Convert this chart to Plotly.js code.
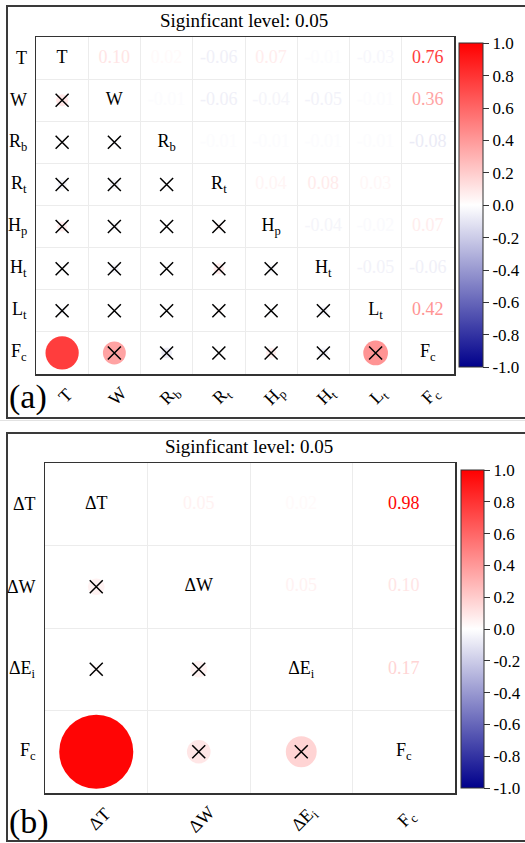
<!DOCTYPE html>
<html>
<head>
<meta charset="utf-8">
<script src="https://cdn.plot.ly/plotly-3.0.1.min.js"></script>
<style>html,body{margin:0;padding:0;background:#fff;}#chart{width:525px;height:843px;}</style>
</head>
<body>
<div id="chart"></div>
<script>
// ---------------- DATA ----------------
const varsA = ['T', 'W', 'R<sub>b</sub>', 'R<sub>t</sub>', 'H<sub>p</sub>', 'H<sub>t</sub>', 'L<sub>t</sub>', 'F<sub>c</sub>'];
const corrA_T  = [1.00, 0.10, 0.02, -0.06, 0.07, -0.01, -0.03, 0.76];
const corrA_W  = [0.10, 1.00, -0.01, -0.06, -0.04, -0.05, -0.01, 0.36];
const corrA_Rb = [0.02, -0.01, 1.00, -0.01, -0.01, -0.01, -0.01, -0.08];
const corrA_Rt = [-0.06, -0.06, -0.01, 1.00, 0.04, 0.08, 0.03, 0.00];
const corrA_Hp = [0.07, -0.04, -0.01, 0.04, 1.00, -0.04, -0.02, 0.07];
const corrA_Ht = [-0.01, -0.05, -0.01, 0.08, -0.04, 1.00, -0.05, -0.06];
const corrA_Lt = [-0.03, -0.01, -0.01, 0.03, -0.02, -0.05, 1.00, 0.42];
const corrA_Fc = [0.76, 0.36, -0.08, 0.00, 0.07, -0.06, 0.42, 1.00];
// 1 = significant at 0.05 (no cross drawn), lower triangle [row][col]
const sigA_Fc = [1, 0, 0, 0, 0, 0, 0];   // only Fc-T significant

const varsB = ['ΔT', 'ΔW', 'ΔE<sub>i</sub>', 'F<sub>c</sub>'];
const corrB_dT  = [1.00, 0.05, 0.02, 0.98];
const corrB_dW  = [0.05, 1.00, 0.05, 0.10];
const corrB_dEi = [0.02, 0.05, 1.00, 0.17];
const corrB_Fc  = [0.98, 0.10, 0.17, 1.00];
const sigB_Fc = [1, 0, 0];               // only Fc-ΔT significant

const cbTickVals = [-1.0, -0.8, -0.6, -0.4, -0.2, 0.0, 0.2, 0.4, 0.6, 0.8, 1.0];
const cbTickText = ['-1.0', '-0.8', '-0.6', '-0.4', '-0.2', '0.0', '0.2', '0.4', '0.6', '0.8', '1.0'];
const titleText = 'Siginficant level: 0.05';

// ---------------- STYLE ----------------
const FONT = '"Liberation Serif", "Times New Roman", Times, serif';
const W = 525, H = 843;
const cscale = [[0, 'rgb(0,0,139)'], [0.5, 'rgb(255,255,255)'], [1, 'rgb(255,0,0)']];
const px = v => v / W;
const py = v => 1 - v / H;

function colorFor(v) {
  const t = (v + 1) / 2;
  let a, b;
  for (let i = 0; i < cscale.length - 1; i++) {
    if (t >= cscale[i][0] && t <= cscale[i + 1][0]) { a = cscale[i]; b = cscale[i + 1]; break; }
  }
  const pa = a[1].match(/\d+/g).map(Number), pb = b[1].match(/\d+/g).map(Number);
  const f = (t - a[0]) / (b[0] - a[0]);
  const c = pa.map((x, k) => Math.round(x + (pb[k] - x) * f));
  return 'rgb(' + c.join(',') + ')';
}

const matA = [corrA_T, corrA_W, corrA_Rb, corrA_Rt, corrA_Hp, corrA_Ht, corrA_Lt, corrA_Fc];
const matB = [corrB_dT, corrB_dW, corrB_dEi, corrB_Fc];
const sigA = matA.map((r, i) => i === matA.length - 1 ? sigA_Fc : new Array(i).fill(0));
const sigB = matB.map((r, i) => i === matB.length - 1 ? sigB_Fc : new Array(i).fill(0));

// panel geometry (pixels)
const panels = [
  {mat: matA, sig: sigA, vars: varsA, xa: 'x', ya: 'y', left: 36, right: 454, top: 37, bottom: 374,
   cb: {x: 459, top: 43.5, bottom: 367, th: 24}},
  {mat: matB, sig: sigB, vars: varsB, xa: 'x2', ya: 'y2', left: 45, right: 455, top: 463, bottom: 793,
   cb: {x: 461, top: 470, bottom: 788, th: 23}}
];

const traces = [];
const annotations = [];
const layout = {
  width: W, height: H, margin: {l: 0, r: 0, t: 0, b: 0},
  paper_bgcolor: '#fff', plot_bgcolor: '#fff', showlegend: false,
  font: {family: FONT, color: '#000', size: 18},
  annotations: annotations, shapes: []
};

panels.forEach((p, pi) => {
  const n = p.vars.length;
  const cellW = (p.right - p.left) / n;
  const fullD = 0.73 * cellW;
  const up = {x: [], y: [], text: [], col: []};
  const dg = {x: [], y: [], text: []};
  const lo = {x: [], y: [], v: [], s: []};
  const cr = {x: [], y: []};
  for (let i = 0; i < n; i++) {
    for (let j = 0; j < n; j++) {
      const v = p.mat[i][j];
      if (i === j) { dg.x.push(j); dg.y.push(i); dg.text.push(p.vars[i]); }
      else if (j > i) { up.x.push(j); up.y.push(i); up.text.push(v.toFixed(2)); up.col.push(colorFor(v)); }
      else {
        lo.x.push(j); lo.y.push(i); lo.v.push(v); lo.s.push(fullD * Math.sqrt(Math.abs(v)));
        if (!p.sig[i][j]) { cr.x.push(j); cr.y.push(i); }
      }
    }
  }
  const cbc = (p.cb.top + p.cb.bottom) / 2;
  traces.push({
    type: 'scatter', mode: 'markers', x: lo.x, y: lo.y, xaxis: p.xa, yaxis: p.ya, hoverinfo: 'skip',
    marker: {
      symbol: 'circle', size: lo.s, color: lo.v, colorscale: cscale, cmin: -1, cmax: 1, opacity: 1,
      line: {width: 0}, showscale: true,
      colorbar: {
        x: px(p.cb.x), xanchor: 'left', xpad: 0, ypad: 0,
        y: py(cbc), yanchor: 'middle', len: (p.cb.bottom - p.cb.top) / H, lenmode: 'fraction',
        thickness: p.cb.th, thicknessmode: 'pixels',
        outlinewidth: 1, outlinecolor: '#333',
        tickmode: 'array', tickvals: cbTickVals, ticktext: cbTickText,
        ticks: 'outside', ticklen: 6, tickwidth: 1, tickcolor: '#333',
        tickfont: {family: FONT, size: 17, color: '#000'}
      }
    }
  });
  traces.push({
    type: 'scatter', mode: 'markers', x: cr.x, y: cr.y, xaxis: p.xa, yaxis: p.ya, hoverinfo: 'skip',
    marker: {symbol: 'x-thin-open', size: 13, color: '#000', opacity: 1, line: {width: 1.5, color: '#000'}}
  });
  traces.push({
    type: 'scatter', mode: 'text', x: up.x, y: up.y, text: up.text, xaxis: p.xa, yaxis: p.ya, hoverinfo: 'skip',
    textposition: 'middle center', textfont: {family: FONT, size: 18, color: up.col}
  });
  traces.push({
    type: 'scatter', mode: 'text', x: dg.x, y: dg.y, text: dg.text, xaxis: p.xa, yaxis: p.ya, hoverinfo: 'skip',
    textposition: 'middle center', textfont: {family: FONT, size: 18, color: '#000'}
  });

  const axBase = {
    tickmode: 'linear', tick0: -0.5, dtick: 1, showticklabels: false, ticks: '',
    showgrid: true, gridcolor: '#ececec', gridwidth: 1, zeroline: false,
    showline: true, mirror: true, linecolor: '#333', linewidth: 1.5, fixedrange: true
  };
  const xk = pi === 0 ? 'xaxis' : 'xaxis2';
  const yk = pi === 0 ? 'yaxis' : 'yaxis2';
  layout[xk] = Object.assign({}, axBase, {domain: [px(p.left), px(p.right)], range: [-0.5, n - 0.5],
    anchor: pi === 0 ? 'y' : 'y2'});
  layout[yk] = Object.assign({}, axBase, {domain: [py(p.bottom), py(p.top)], range: [n - 0.5, -0.5],
    anchor: pi === 0 ? 'x' : 'x2'});

  // axis labels
  p.vars.forEach((lab, k) => {
    annotations.push({text: lab, xref: 'paper', yref: p.ya, x: px(p.left), y: k, xanchor: 'right',
      yanchor: 'middle', xshift: -7, showarrow: false, font: {family: FONT, size: 18, color: '#000'}});
    annotations.push({text: lab, xref: p.xa, yref: 'paper', x: k, y: py(p.bottom), xanchor: 'center',
      yanchor: 'middle', xshift: 3, yshift: pi === 0 ? -22 : -26, textangle: -45, showarrow: false,
      font: {family: FONT, size: 18, color: '#000'}});
  });
});

// titles and panel tags
annotations.push({text: titleText, xref: 'paper', yref: 'paper', x: px(244), y: py(20), xanchor: 'center', yanchor: 'middle',
  showarrow: false, font: {family: FONT, size: 19, color: '#000'}});
annotations.push({text: titleText, xref: 'paper', yref: 'paper', x: px(249), y: py(447), xanchor: 'center', yanchor: 'middle',
  showarrow: false, font: {family: FONT, size: 19, color: '#000'}});
annotations.push({text: '(a)', xref: 'paper', yref: 'paper', x: px(28), y: py(397), xanchor: 'center', yanchor: 'middle',
  showarrow: false, font: {family: FONT, size: 34, color: '#000'}});
annotations.push({text: '(b)', xref: 'paper', yref: 'paper', x: px(29), y: py(822), xanchor: 'center', yanchor: 'middle',
  showarrow: false, font: {family: FONT, size: 34, color: '#000'}});

// outer frames
layout.shapes.push({type: 'rect', xref: 'paper', yref: 'paper', x0: px(7), x1: px(540), y0: py(418), y1: py(6),
  line: {color: '#3a3a3a', width: 2}, layer: 'below'});
layout.shapes.push({type: 'rect', xref: 'paper', yref: 'paper', x0: px(7), x1: px(540), y0: py(841), y1: py(433),
  line: {color: '#3a3a3a', width: 2}, layer: 'below'});
layout.shapes.push({type: 'line', xref: 'paper', yref: 'paper', x0: 0, x1: 1, y0: py(420.5), y1: py(420.5),
  line: {color: '#e2e2e2', width: 1}, layer: 'below'});

Plotly.newPlot('chart', traces, layout, {displayModeBar: false, staticPlot: true});
</script>
</body>
</html>
